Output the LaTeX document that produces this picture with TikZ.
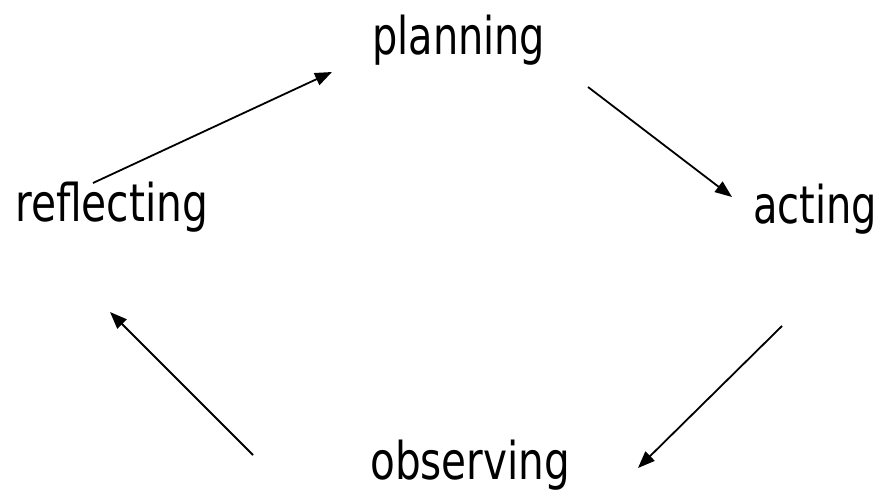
\documentclass[tikz,border=0pt]{standalone}
\usepackage{fontspec}
\setmainfont{DejaVu Sans}
\usepackage{graphicx}
\usetikzlibrary{arrows.meta}
\begin{document}
\begin{tikzpicture}[x=1pt,y=-1pt,
  word/.style={anchor=base west,inner sep=0pt,font=\fontsize{52pt}{60pt}\selectfont},
  cyc/.style={line width=1.8pt,-{Triangle[length=17pt,width=13pt]}}]
\useasboundingbox[fill=white] (0,0) rectangle (884,492);
\node[word] (planning) at (372,55) {\resizebox{173pt}{\height}{planning}};
\node[word] (reflecting) at (15,222) {\resizebox{193pt}{\height}{reflecting}};
\node[word] (acting) at (753,223) {\resizebox{124pt}{\height}{acting}};
\node[word] (observing) at (370,479) {\resizebox{200pt}{\height}{observing}};
\coordinate (r1) at (93,183);  \coordinate (p1) at (332,72);
\coordinate (p2) at (588,87);  \coordinate (a1) at (732,197);
\coordinate (a2) at (782,326); \coordinate (o1) at (638,468);
\coordinate (o2) at (253,455); \coordinate (r2) at (110,312);
\draw[cyc] (r1) -- (p1);
\draw[cyc] (p2) -- (a1);
\draw[cyc] (a2) -- (o1);
\draw[cyc] (o2) -- (r2);
\end{tikzpicture}
\end{document}
